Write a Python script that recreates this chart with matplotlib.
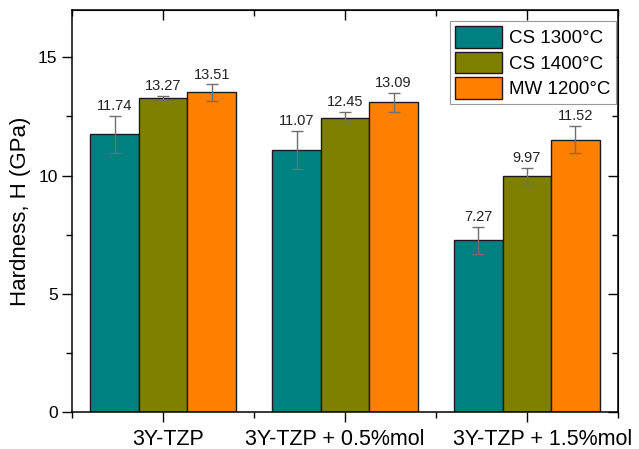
import numpy as np
import matplotlib
matplotlib.use("Agg")
import matplotlib.pyplot as plt
import matplotlib.transforms as mtransforms
from matplotlib.ticker import MultipleLocator, FixedLocator

plt.rcParams['font.family'] = ['Liberation Sans', 'DejaVu Sans']

# data
groups = ['3Y-TZP', '3Y-TZP + 0.5%mol', '3Y-TZP + 1.5%mol']
series = ['CS 1300°C', 'CS 1400°C', 'MW 1200°C']
hardness = [
    [11.74, 11.07, 7.27],
    [13.27, 12.45, 9.97],
    [13.51, 13.09, 11.52],
]
errors = [
    [0.77, 0.81, 0.57],
    [0.08, 0.24, 0.36],
    [0.34, 0.40, 0.58],
]
colors = ['#008080', '#808000', '#FF8000']

fig = plt.figure(figsize=(6.39, 4.49), dpi=100)
ax = fig.add_axes([0.113, 0.082, 0.854, 0.896])

x = np.arange(1, len(groups) + 1)
w = 0.8 / 3
for i, name in enumerate(series):
    pos = x + (i - 1) * w
    ax.bar(pos, hardness[i], width=w, color=colors[i], edgecolor='#1a1a1a',
           linewidth=1.0, label=name, zorder=2)
    ax.errorbar(pos, hardness[i], yerr=errors[i], fmt='none', ecolor='#707070',
                elinewidth=1.0, capsize=4, capthick=1.0, zorder=3)
    for px, v, e in zip(pos, hardness[i], errors[i]):
        ax.text(px, v + e + 0.12, f'{v:.2f}', ha='center', va='bottom',
                fontsize=10.5, color='#222222')

ax.set_xlim(0.5, 3.5)
ax.set_ylim(0, 17)
ax.set_xticks(x)
ax.set_xticklabels(groups, fontsize=15.5)
ax.xaxis.set_minor_locator(FixedLocator([0.5, 1.5, 2.5, 3.5]))
ax.yaxis.set_major_locator(MultipleLocator(5))
ax.yaxis.set_minor_locator(MultipleLocator(2.5))
ax.tick_params(axis='y', which='major', labelsize=12.5)
ax.tick_params(axis='x', which='major', pad=5)
ax.tick_params(axis='both', which='major', direction='out', length=7, width=1)
ax.tick_params(axis='both', which='minor', direction='out', length=4, width=1)
ax.set_ylabel('Hardness, H (GPa)', fontsize=16, labelpad=5)
for s in ax.spines.values():
    s.set_linewidth(1.1)

# the category labels sit a little off their ticks in the original
shifts = [5, -10, 16]
for lab, dx in zip(ax.get_xticklabels(), shifts):
    lab.set_transform(lab.get_transform() +
                      mtransforms.ScaledTranslation(dx / 100, 0, fig.dpi_scale_trans))

# inward ticks on top and right
sec = ax.secondary_xaxis('top')
sec.set_xticks(x)
sec.set_xticklabels([])
sec.xaxis.set_minor_locator(FixedLocator([0.5, 1.5, 2.5, 3.5]))
sec.tick_params(which='major', direction='in', length=7, width=1)
sec.tick_params(which='minor', direction='in', length=4, width=1)
secy = ax.secondary_yaxis('right')
secy.yaxis.set_major_locator(MultipleLocator(5))
secy.yaxis.set_minor_locator(MultipleLocator(2.5))
secy.set_yticklabels([])
secy.tick_params(which='major', direction='in', length=7, width=1)
secy.tick_params(which='minor', direction='in', length=4, width=1)

leg = ax.legend(loc='upper right', bbox_to_anchor=(0.996, 0.973), fontsize=13.5,
                fancybox=False, framealpha=1, edgecolor='#999999',
                handlelength=2.5, handleheight=1.4, labelspacing=0.2,
                handletextpad=0.35, borderpad=0.3, borderaxespad=0)
leg.get_frame().set_linewidth(0.8)

fig.savefig('out.png', dpi=100)
